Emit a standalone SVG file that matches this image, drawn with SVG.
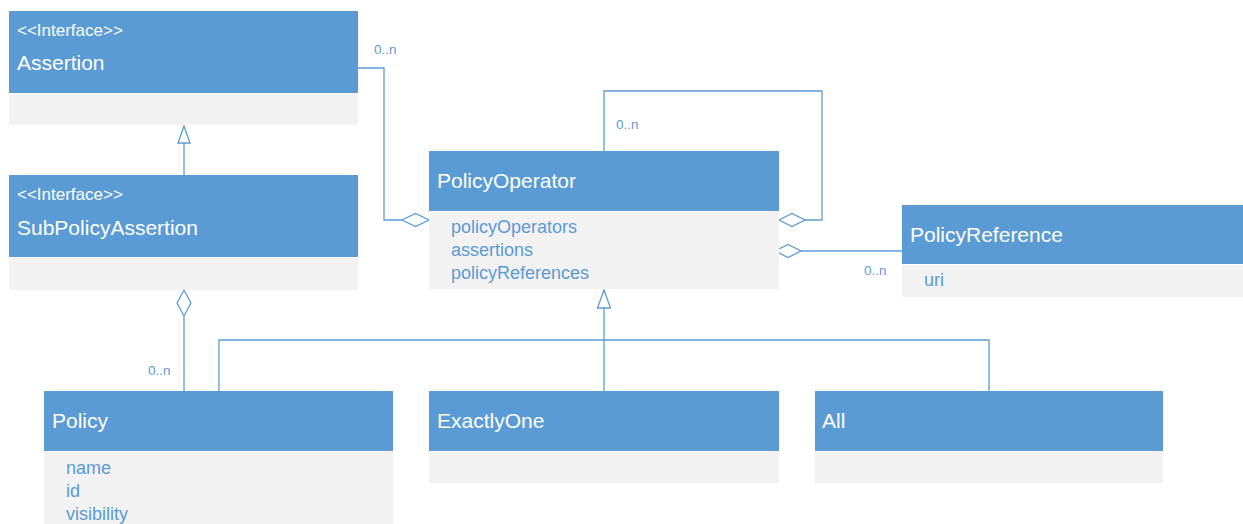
<svg xmlns="http://www.w3.org/2000/svg" width="1243" height="524" viewBox="0 0 1243 524">
  <style>
    .head { fill: #5B9BD5; }
    .body { fill: #F2F2F2; }
    .title { font-family: "Liberation Sans", Arial, sans-serif; font-size: 21px; fill: #FFFFFF; }
    .stereo { font-family: "Liberation Sans", Arial, sans-serif; font-size: 17px; fill: #FFFFFF; }
    .attr { font-family: "Liberation Sans", Arial, sans-serif; font-size: 18px; fill: #5B9BD5; }
    .mult { font-family: "Liberation Sans", Arial, sans-serif; font-size: 13.5px; fill: #5B9BD5; }
    .line { fill: none; stroke: #5B9BD5; stroke-width: 1.3; }
    .shape { fill: #FFFFFF; stroke: #5B9BD5; stroke-width: 1.3; stroke-linejoin: miter; }
  </style>
  <rect width="1243" height="524" fill="#FFFFFF"/>

  <!-- connectors -->
  <g id="connectors">
    <!-- Assertion aggregated by PolicyOperator -->
    <polyline class="line" points="358,68 384,68 384,220 402,220"/>
    <polygon class="shape" points="402,220 415.5,213.5 429,220 415.5,226.5"/>
    <text class="mult" x="374" y="53.5">0..n</text>

    <!-- PolicyOperator self aggregation -->
    <polyline class="line" points="604,151 604,91 822,91 822,220 805,220"/>
    <polygon class="shape" points="779,220 792,213.5 805,220 792,226.5"/>
    <text class="mult" x="616" y="129">0..n</text>

    <!-- PolicyReference aggregated by PolicyOperator -->
    <line class="line" x1="801" y1="251" x2="902" y2="251"/>
    <polygon class="shape" points="775,251 788,244.5 801,251 788,257.5"/>
    <text class="mult" x="864" y="275">0..n</text>

    <!-- SubPolicyAssertion generalizes Assertion -->
    <line class="line" x1="184" y1="175" x2="184" y2="143"/>
    <polygon class="shape" points="184,126 190,143 178,143"/>

    <!-- Policy aggregated by SubPolicyAssertion -->
    <line class="line" x1="184" y1="316" x2="184" y2="391"/>
    <polygon class="shape" points="184,290 191,303 184,316 177,303"/>
    <text class="mult" x="148" y="375">0..n</text>

    <!-- Policy, ExactlyOne, All generalize PolicyOperator -->
    <polyline class="line" points="219,391 219,340 989,340 989,391"/>
    <line class="line" x1="604" y1="391" x2="604" y2="308"/>
    <polygon class="shape" points="604,290 610.5,308 597.5,308"/>
  </g>

  <!-- nodes -->
  <g id="assertion">
    <rect class="head" x="9" y="11" width="349" height="82"/>
    <rect class="body" x="9" y="94" width="349" height="31"/>
    <text class="stereo" x="17" y="36">&lt;&lt;Interface&gt;&gt;</text>
    <text class="title" x="17" y="70">Assertion</text>
  </g>

  <g id="subPolicyAssertion">
    <rect class="head" x="9" y="175" width="349" height="82"/>
    <rect class="body" x="9" y="258" width="349" height="32"/>
    <text class="stereo" x="17" y="200">&lt;&lt;Interface&gt;&gt;</text>
    <text class="title" x="17" y="235">SubPolicyAssertion</text>
  </g>

  <g id="policyOperator">
    <rect class="head" x="429" y="151" width="350" height="60"/>
    <rect class="body" x="429" y="212" width="350" height="77"/>
    <text class="title" x="437" y="188">PolicyOperator</text>
    <text class="attr" x="451" y="233">policyOperators</text>
    <text class="attr" x="451" y="256">assertions</text>
    <text class="attr" x="451" y="279">policyReferences</text>
  </g>

  <g id="policyReference">
    <rect class="head" x="902" y="205" width="341" height="59"/>
    <rect class="body" x="902" y="265" width="341" height="32"/>
    <text class="title" x="910" y="242">PolicyReference</text>
    <text class="attr" x="924" y="286">uri</text>
  </g>

  <g id="policy">
    <rect class="head" x="44" y="391" width="349" height="60"/>
    <rect class="body" x="44" y="452" width="349" height="72"/>
    <text class="title" x="52" y="428">Policy</text>
    <text class="attr" x="66" y="474">name</text>
    <text class="attr" x="66" y="497">id</text>
    <text class="attr" x="66" y="520">visibility</text>
  </g>

  <g id="exactlyOne">
    <rect class="head" x="429" y="391" width="350" height="60"/>
    <rect class="body" x="429" y="452" width="350" height="31"/>
    <text class="title" x="437" y="428">ExactlyOne</text>
  </g>

  <g id="all">
    <rect class="head" x="815" y="391" width="348" height="60"/>
    <rect class="body" x="815" y="452" width="348" height="31"/>
    <text class="title" x="822" y="428">All</text>
  </g>
</svg>
